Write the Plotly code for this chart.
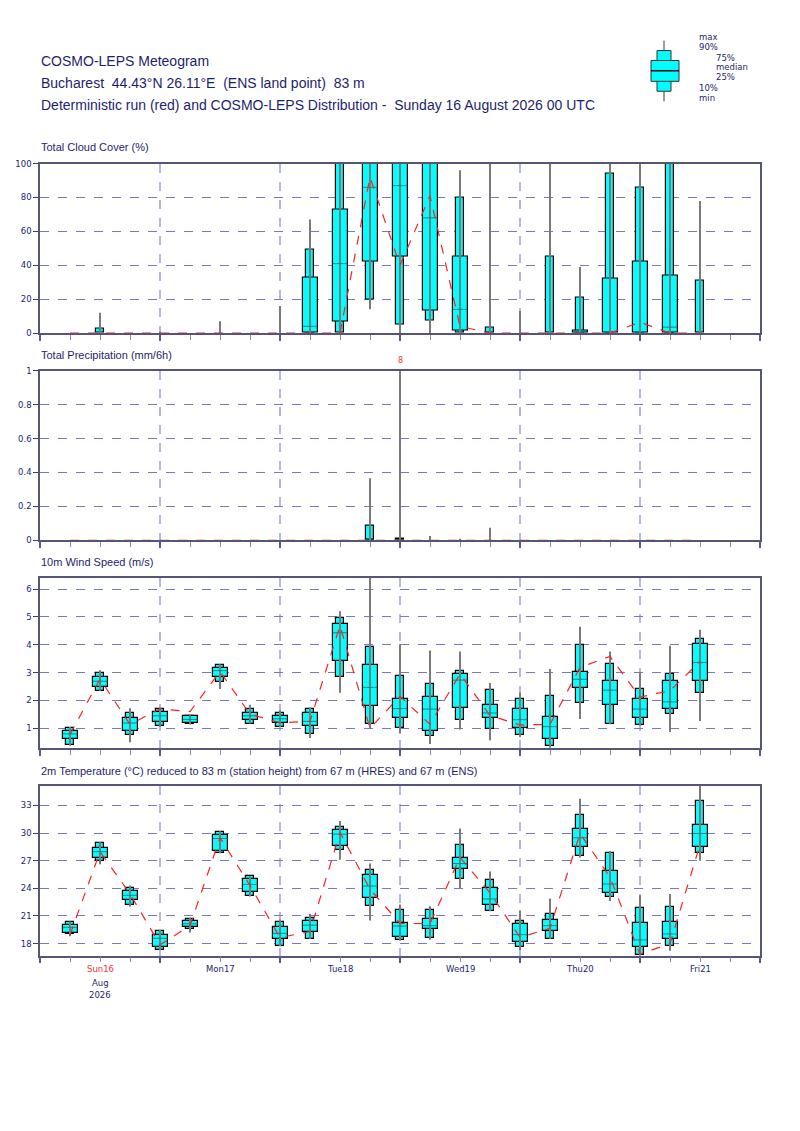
import pandas as pd
import plotly.graph_objects as go
from plotly.subplots import make_subplots

# forecast steps (every 6h from the run start + 6h)
steps = pd.date_range("2026-08-16 06:00", periods=22, freq="6h")
day_ticks = pd.date_range("2026-08-16", periods=7, freq="D")
day_label_times = pd.date_range("2026-08-16 12:00", periods=6, freq="D")
day_labels = ["Sun16", "Mon17", "Tue18", "Wed19", "Thu20", "Fri21"]

# total cloud cover (%)
cloud_min = [0, 0, 0, 0, 0, 0, 0, 0, 0, 0, 14, 0, 0, 0, 0, 0, 0, 0, 0, 0, 0, 0]
cloud_p10 = [0, 0, 0, 0, 0, 0, 0, 0, 0, 0, 20, 5, 7.6, 0, 0, 0, 0, 0, 0, 0, 0, 0]
cloud_p25 = [0, 0, 0, 0, 0, 0, 0, 0, 0, 7, 42, 45, 13, 1.5, 0, 0, 0, 0, 0, 0, 0, 0]
cloud_med = [0, 0, 0, 0, 0, 0, 0, 0, 4, 41, 86, 87, 68, 14, 0, 0, 0, 0, 0, 0, 3.5, 0]
cloud_p75 = [0, 0, 0, 0, 0, 0, 0, 0, 33, 73, 100, 100, 100, 45, 0, 0, 0, 1.5, 32, 42, 34, 0]
cloud_p90 = [0, 2.7, 0, 0, 0, 0, 0, 0, 49, 100, 100, 100, 100, 80, 3, 0, 45, 21, 94, 86, 100, 31]
cloud_max = [0, 12, 0, 1, 0, 7, 0, 16, 67, 100, 100, 100, 100, 96, 100, 13, 100, 39, 100, 100, 100, 78]
cloud_det = [0, 0, 0, 0, 0, 0, 0, 0, 0, 0, 92, 40, 81, 4, 0, 0, 0, 0, 0, 6.4, 0, 0]

# total precipitation (mm/6h)
prec_min = [0] * 22
prec_p10 = [0] * 22
prec_p25 = [0] * 22
prec_med = [0] * 22
prec_p75 = [0] * 22
prec_p90 = [0, 0, 0, 0, 0, 0, 0, 0, 0, 0, 0.084, 0.006, 0, 0, 0, 0, 0, 0, 0, 0, 0, 0]
prec_max = [0, 0, 0, 0, 0, 0, 0, 0, 0, 0, 0.366, 8, 0.025, 0.008, 0.074, 0, 0, 0, 0, 0, 0, 0]
prec_det = [0] * 22

# 10m wind speed (m/s)
wind_min = [0.37, 2.35, 0.50, 1.05, 1.14, 2.41, 1.17, 1.05, 0.65, 2.28, 1.00,
            0.81, 0.44, 0.96, 0.57, 0.69, 0.30, 1.33, 1.15, 1.10, 0.87, 1.26]
wind_p10 = [0.39, 2.35, 0.77, 1.08, 1.16, 2.65, 1.17, 1.05, 0.81, 2.83, 1.17,
            1.00, 0.74, 1.32, 0.98, 0.75, 0.36, 1.93, 1.15, 1.13, 1.51, 2.26]
wind_p25 = [0.62, 2.47, 0.92, 1.23, 1.21, 2.83, 1.32, 1.19, 1.08, 3.43, 1.80,
            1.36, 0.90, 1.75, 1.37, 1.01, 0.62, 2.46, 1.84, 1.39, 1.69, 2.72]
wind_med = [0.80, 2.69, 1.19, 1.45, 1.32, 3.07, 1.45, 1.34, 1.25, 4.43, 2.47,
            1.71, 1.69, 2.73, 1.55, 1.31, 1.06, 2.76, 2.37, 1.69, 1.95, 3.36]
wind_p75 = [0.89, 2.83, 1.39, 1.60, 1.43, 3.17, 1.57, 1.43, 1.55, 4.74, 3.29,
            2.06, 2.14, 2.97, 1.83, 1.68, 1.40, 3.03, 2.71, 2.06, 2.69, 4.03]
wind_p90 = [1.02, 3.00, 1.57, 1.68, 1.45, 3.27, 1.69, 1.55, 1.69, 4.97, 3.93,
            2.90, 2.59, 3.07, 2.37, 2.05, 2.15, 4.00, 3.32, 2.43, 2.97, 4.21]
wind_max = [1.05, 3.08, 1.72, 1.75, 1.47, 3.30, 1.85, 1.65, 1.75, 5.20, 6.40,
            4.02, 3.79, 3.76, 2.63, 2.29, 3.13, 4.65, 3.76, 3.03, 3.96, 4.54]
wind_det = [0.78, 2.77, 1.14, 1.70, 1.60, 3.04, 1.51, 1.20, 1.25, 4.69, 1.00,
            2.15, 1.14, 2.95, 1.46, 1.12, 1.14, 3.19, 3.58, 2.12, 2.35, 3.40]

# 2m temperature (C)
temp_min = [18.8, 26.6, 22.0, 17.3, 19.2, 27.8, 23.1, 17.7, 18.5, 27.1, 20.5,
            18.3, 18.4, 24.03, 21.5, 17.3, 18.5, 27.33, 22.63, 16.7, 17.21, 27.0]
temp_p10 = [19.0, 26.97, 22.16, 17.35, 19.6, 27.83, 23.13, 17.75, 18.54, 28.19, 22.09,
            18.36, 18.61, 24.96, 21.55, 17.64, 18.5, 27.55, 23.06, 16.78, 17.75, 27.8]
temp_p25 = [19.11, 27.29, 22.7, 17.64, 19.79, 28.05, 23.6, 18.47, 19.29, 28.55, 22.95,
            18.75, 19.58, 26.04, 22.16, 18.18, 19.4, 28.48, 23.53, 17.64, 18.54, 28.51]
temp_med = [19.76, 27.97, 23.24, 18.57, 20.15, 29.41, 24.42, 19.11, 20.0, 29.88, 24.24,
            19.9, 19.94, 26.68, 22.84, 18.97, 19.94, 29.48, 24.46, 18.39, 19.04, 29.95]
temp_p75 = [20.05, 28.4, 23.74, 18.93, 20.48, 29.8, 24.96, 19.8, 20.44, 30.3, 25.43,
            20.19, 20.65, 27.29, 23.99, 20.12, 20.51, 30.45, 25.89, 20.26, 20.33, 30.88]
temp_p90 = [20.33, 28.87, 24.0, 19.4, 20.7, 30.13, 25.28, 20.33, 20.76, 30.67, 25.93,
            21.59, 21.59, 28.73, 24.85, 20.4, 21.16, 31.96, 27.83, 21.84, 21.95, 33.46]
temp_max = [20.4, 29.0, 24.3, 19.5, 20.8, 30.2, 25.3, 20.6, 21.23, 31.3, 26.7,
            22.23, 22.05, 30.49, 25.82, 21.59, 22.88, 33.72, 28.05, 23.24, 23.38, 35.1]
temp_det = [18.93, 27.97, 23.4, 17.86, 19.94, 29.5, 24.3, 18.65, 19.3, 30.06, 23.9,
            20.2, 20.15, 27.36, 23.5, 18.68, 19.65, 29.95, 25.2, 16.85, 18.0, 28.73]

NAVY = "#1e1e6e"
W, H = 800, 1131
HOUR = 3600 * 1000

# panel rows: (top px, bottom px, title y px, title, y range, y ticks)
panels = [
    (160, 331, 143, "Total Cloud Cover (%)", [0, 100], dict(dtick=20, tick0=0)),
    (369, 540, 353, "Total Precipitation (mm/6h)", [0, 1], dict(dtick=0.2, tick0=0)),
    (578, 750, 562, "10m Wind Speed (m/s)", [0.28, 6.4], dict(dtick=1, tick0=0)),
    (788, 959, 773, "2m Temperature (\u00b0C) reduced to 83 m (station height) from 67 m (HRES) and 67 m (ENS)",
     [16.7, 35.1], dict(dtick=3, tick0=0)),
]
series = [
    (cloud_min, cloud_p10, cloud_p25, cloud_med, cloud_p75, cloud_p90, cloud_max, cloud_det),
    (prec_min, prec_p10, prec_p25, prec_med, prec_p75, prec_p90, prec_max, prec_det),
    (wind_min, wind_p10, wind_p25, wind_med, wind_p75, wind_p90, wind_max, wind_det),
    (temp_min, temp_p10, temp_p25, temp_med, temp_p75, temp_p90, temp_max, temp_det),
]

fig = make_subplots(rows=4, cols=1)


def box_bars(lo, hi, width, row):
    xs = [t for t, a, b in zip(steps, lo, hi) if b > a]
    base = [a for a, b in zip(lo, hi) if b > a]
    size = [b - a for a, b in zip(lo, hi) if b > a]
    fig.add_trace(go.Bar(x=xs, y=size, base=base, width=width,
                         marker=dict(color="#00ffff", line=dict(color="black", width=1.2)),
                         hoverinfo="skip", showlegend=False), row=row, col=1)


annotations = []
for r, ((top, bot, ty, title, yr, yt), (mn, p10, p25, med, p75, p90, mx, det)) in enumerate(zip(panels, series), 1):
    # whiskers min-max
    wx, wy = [], []
    for t, a, b in zip(steps, mn, mx):
        if b > a:
            wx += [t, t, None]
            wy += [a, b, None]
    fig.add_trace(go.Scatter(x=wx, y=wy, mode="lines", line=dict(color="#7a7a7a", width=2),
                             hoverinfo="skip", showlegend=False), row=r, col=1)
    box_bars(p10, p90, 1.5 * HOUR, r)
    box_bars(p25, p75, 3 * HOUR, r)
    # medians
    mxs, mys = [], []
    for t, a, m, b in zip(steps, p25, med, p75):
        if b > a:
            mxs += [t - pd.Timedelta(hours=1.45), t + pd.Timedelta(hours=1.45), None]
            mys += [m, m, None]
    fig.add_trace(go.Scatter(x=mxs, y=mys, mode="lines", line=dict(color="#008b8b", width=1),
                             hoverinfo="skip", showlegend=False), row=r, col=1)
    # deterministic run
    fig.add_trace(go.Scatter(x=steps, y=det, mode="lines",
                             line=dict(color="#ff2020", width=1.2, dash="dash"),
                             hoverinfo="skip", showlegend=False), row=r, col=1)

    # values out of range
    for t, b in zip(steps, mx):
        if b > yr[1]:
            annotations.append(dict(x=t, xref=f"x{r}", y=1 - (top - 4) / H, yref="paper",
                                    text=f"{b:g}", showarrow=False, xanchor="center",
                                    yanchor="bottom",
                                    font=dict(family="DejaVu Sans", size=8, color="#ff3030")))

    fig.update_yaxes(row=r, col=1, domain=[1 - bot / H, 1 - top / H], range=yr, **yt,
                     ticks="outside", ticklen=5, tickwidth=1, tickcolor="#3c3c6c",
                     showline=True, linecolor="#55557a", linewidth=1.5, mirror=True,
                     showgrid=True, gridcolor="#7a7ab8", griddash="dash", gridwidth=1,
                     zeroline=False,
                     tickfont=dict(family="DejaVu Sans", size=8.5, color=NAVY))
    fig.update_xaxes(row=r, col=1, domain=[40 / W, 760 / W], type="date",
                     range=[day_ticks[0], day_ticks[-1]],
                     tickmode="array", tickvals=list(day_ticks), showticklabels=False,
                     ticks="outside", ticklen=6, tickwidth=2, tickcolor="#5a5a8a",
                     showgrid=True, gridcolor="#b8b8dc", griddash="dash", gridwidth=1.5,
                     showline=True, linecolor="#55557a", linewidth=1.5, mirror=True,
                     zeroline=False,
                     minor=dict(tick0="2026-08-16", dtick=6 * HOUR, ticks="outside",
                                ticklen=5, tickwidth=1, tickcolor="#8888b0", showgrid=False))

    annotations.append(dict(x=39 / W, y=1 - ty / H, xref="paper", yref="paper",
                            text=title, showarrow=False, xanchor="left", yanchor="middle",
                            font=dict(family="Liberation Sans", size=11, color=NAVY)))

# day labels under the bottom panel
for i, (t, lab) in enumerate(zip(day_label_times, day_labels)):
    annotations.append(dict(x=t, xref="x4", y=1 - 973 / H, yref="paper", text=lab,
                            showarrow=False, xanchor="center", yanchor="middle",
                            font=dict(family="DejaVu Sans", size=8.5,
                                      color="#ff3030" if i == 0 else NAVY)))
for txt, py in [("Aug", 987), ("2026", 999)]:
    annotations.append(dict(x=day_label_times[0], xref="x4", y=1 - py / H, yref="paper",
                            text=txt, showarrow=False, xanchor="center", yanchor="middle",
                            font=dict(family="DejaVu Sans", size=8.5, color=NAVY)))

# header
header = ["COSMO-LEPS Meteogram",
          "Bucharest  44.43\u00b0N 26.11\u00b0E  (ENS land point)  83 m",
          "Deterministic run (red) and COSMO-LEPS Distribution -  Sunday 16 August 2026 00 UTC"]
for txt, py in zip(header, [56, 79, 101]):
    annotations.append(dict(x=39 / W, y=1 - py / H, xref="paper", yref="paper", text=txt,
                            showarrow=False, xanchor="left", yanchor="middle",
                            font=dict(family="Liberation Sans", size=14, color=NAVY)))

# key box at top right
shapes = []


def px(x, y):
    return x / W, 1 - y / H


cx = 664
for (x0, x1, y0, y1, kind) in [(cx, cx, 36, 97, "w"), (657, 671, 46, 87, "b"),
                               (651, 679, 56, 77, "b")]:
    a, b = px(x0, y0)
    c, d = px(x1, y1)
    if kind == "w":
        shapes.append(dict(type="line", xref="paper", yref="paper", x0=a, x1=c, y0=b, y1=d,
                           line=dict(color="#7a7a7a", width=1.5)))
    else:
        shapes.append(dict(type="rect", xref="paper", yref="paper", x0=a, x1=c, y0=b, y1=d,
                           fillcolor="#00ffff", line=dict(color="#303030", width=1)))
a, b = px(651, 66.3)
c, _ = px(679, 66.3)
shapes.append(dict(type="line", xref="paper", yref="paper", x0=a, x1=c, y0=b, y1=b,
                   line=dict(color="black", width=1.5)))
for txt, x, y in [("max", 697, 32.5), ("90%", 697, 42.5), ("75%", 714, 53), ("median", 714, 63),
                  ("25%", 714, 73), ("10%", 697, 83.5), ("min", 697, 93.5)]:
    a, b = px(x, y)
    annotations.append(dict(x=a, y=b, xref="paper", yref="paper", text=txt, showarrow=False,
                            xanchor="left", yanchor="middle",
                            font=dict(family="DejaVu Sans", size=8.5, color=NAVY)))

fig.update_layout(width=W, height=H, margin=dict(l=0, r=0, t=0, b=0),
                  paper_bgcolor="white", plot_bgcolor="white", barmode="overlay",
                  bargap=0, showlegend=False, annotations=annotations, shapes=shapes)

fig.write_html("out.html", post_script="document.body.style.margin='0';",
               config={"displayModeBar": False})
